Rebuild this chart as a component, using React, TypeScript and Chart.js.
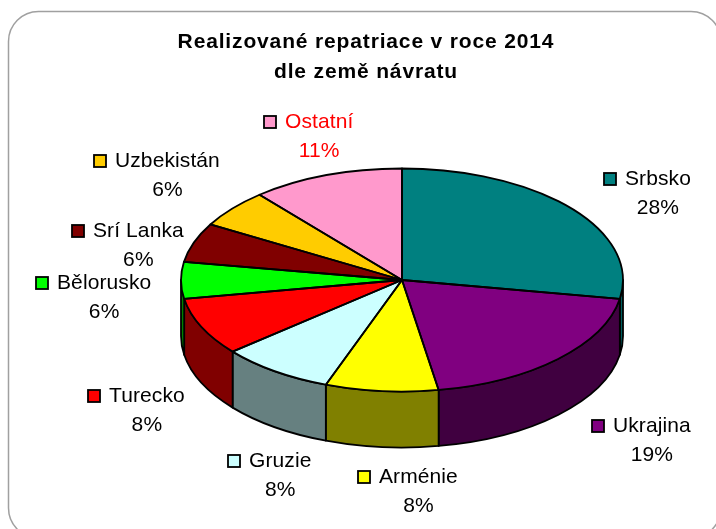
import React, { useEffect, useRef } from "react";
import { Chart, registerables } from "chart.js";

Chart.register(...registerables);

const categories = ["Srbsko", "Ukrajina", "Arménie", "Gruzie", "Turecko", "Bělorusko", "Srí Lanka", "Uzbekistán", "Ostatní"];
const shares = [27.7, 19.65, 8.25, 8.3, 8.4, 5.3, 5.7, 5.55, 11.15];
const percentLabels = ["28%", "19%", "8%", "8%", "8%", "6%", "6%", "6%", "11%"];
const topColors = ["#008080", "#800080", "#FFFF00", "#CCFFFF", "#FF0000", "#00FF00", "#800000", "#FFCC00", "#FF99CC"];
const sideColors = ["#005F5F", "#400040", "#808000", "#668080", "#800000", "#008000", "#400000", "#806600", "#804C66"];
const labelColors = ["#000", "#000", "#000", "#000", "#000", "#000", "#000", "#000", "#FF0000"];
const titleLines = ["Realizované repatriace v roce 2014", "dle země návratu"];
const labelLeft = [625, 613, 379, 249, 109, 57, 93, 115, 285];
const labelMiddle = [179, 426, 477, 461, 396, 283, 231, 161, 122];

const CX = 402;
const CY = 280;
const RX = 221;
const RY = 111.5;
const DEPTH = 56;

const pie3d = {
  id: "pie3d",
  beforeDraw(chart: any) {
    const { ctx } = chart;
    ctx.save();
    ctx.fillStyle = "#fff";
    ctx.fillRect(0, 0, chart.width, chart.height);
    ctx.beginPath();
    ctx.roundRect(8.5, 11.5, 712.5, 526.5, 30);
    ctx.strokeStyle = "#a0a0a0";
    ctx.lineWidth = 1.5;
    ctx.stroke();
    ctx.restore();
    ctx.letterSpacing = "0.85px";
  },
  beforeDatasetDraw(chart: any, args: any) {
    const { ctx } = chart;
    ctx.letterSpacing = "0px";
    const arcs = chart.getDatasetMeta(args.index).data;
    ctx.save();
    ctx.lineWidth = 1.8;
    ctx.strokeStyle = "#000";
    ctx.lineJoin = "round";
    arcs.forEach((arc: any, i: number) => {
      const norm = (a: number) => ((a % (2 * Math.PI)) + 2 * Math.PI) % (2 * Math.PI);
      const s = norm(arc.startAngle);
      const e = s + (arc.endAngle - arc.startAngle);
      const ranges: [number, number][] = [];
      if (s < Math.PI) ranges.push([s, Math.min(e, Math.PI)]);
      if (e > 2 * Math.PI) ranges.push([2 * Math.PI, Math.min(e, 3 * Math.PI)]);
      ranges.forEach(([a, b]) => {
        ctx.beginPath();
        ctx.ellipse(CX, CY, RX, RY, 0, a, b);
        ctx.ellipse(CX, CY + DEPTH, RX, RY, 0, b, a, true);
        ctx.closePath();
        ctx.fillStyle = sideColors[i];
        ctx.fill();
        ctx.stroke();
      });
    });
    ctx.restore();
    const R = arcs[0].outerRadius;
    ctx.save();
    ctx.translate(CX, CY);
    ctx.scale(RX / R, RY / R);
    ctx.translate(-arcs[0].x, -arcs[0].y);
  },
  afterDatasetDraw(chart: any, args: any) {
    const { ctx } = chart;
    const arcs = chart.getDatasetMeta(args.index).data;
    ctx.restore();
    ctx.save();
    ctx.lineWidth = 1.8;
    ctx.strokeStyle = "#000";
    ctx.lineJoin = "round";
    arcs.forEach((arc: any) => {
      ctx.beginPath();
      ctx.ellipse(CX, CY, RX, RY, 0, arc.startAngle, arc.endAngle);
      ctx.lineTo(CX, CY);
      ctx.closePath();
      ctx.stroke();
    });
    ctx.restore();
  },
  afterDraw(chart: any) {
    const { ctx } = chart;
    ctx.save();
    ctx.font = '21px "Liberation Sans"';
    ctx.letterSpacing = "0.1px";
    ctx.textBaseline = "middle";
    categories.forEach((name, i) => {
      const x = labelLeft[i];
      const y = labelMiddle[i];
      const w = ctx.measureText(name).width;
      ctx.fillStyle = topColors[i];
      ctx.strokeStyle = "#000";
      ctx.lineWidth = 1.8;
      ctx.fillRect(x - 21, y - 6, 12, 12);
      ctx.strokeRect(x - 21, y - 6, 12, 12);
      ctx.fillStyle = labelColors[i];
      ctx.textAlign = "left";
      ctx.fillText(name, x, y);
      ctx.textAlign = "center";
      ctx.fillText(percentLabels[i], x + w / 2, y + 29);
    });
    ctx.restore();
  },
};

export default function App() {
  const ref = useRef<HTMLCanvasElement>(null);
  useEffect(() => {
    const chart = new Chart(ref.current!, {
      type: "pie",
      data: {
        labels: categories,
        datasets: [{ data: shares, backgroundColor: topColors, borderWidth: 0 }],
      },
      options: {
        responsive: false,
        animation: false,
        layout: { padding: { left: 16 } },
        plugins: {
          legend: { display: false },
          tooltip: { enabled: false },
          title: {
            display: true,
            text: titleLines,
            color: "#000",
            font: { family: '"Liberation Sans"', size: 21, weight: "bold", lineHeight: 30 / 21 },
            padding: { top: 27, bottom: 0 },
          },
        },
      },
      plugins: [pie3d],
    } as any);
    return () => chart.destroy();
  }, []);
  return (
    <div style={{ position: "absolute", left: 0, top: 0, width: 716, height: 529, overflow: "hidden" }}>
      <canvas ref={ref} width={716} height={529} style={{ display: "block" }} />
    </div>
  );
}
